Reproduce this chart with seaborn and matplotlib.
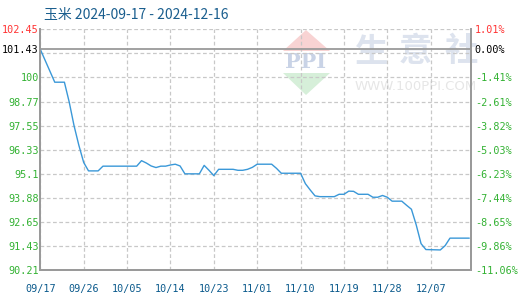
import matplotlib
matplotlib.use("Agg")
import matplotlib.pyplot as plt
from matplotlib.patches import Polygon
import seaborn as sns
import pandas as pd
import numpy as np

# ---- data ----
dates = ["2024-09-17", "2024-09-20", "2024-09-22", "2024-09-23", "2024-09-24", "2024-09-25",
         "2024-09-26", "2024-09-27", "2024-09-29", "2024-09-30", "2024-10-07", "2024-10-08",
         "2024-10-09", "2024-10-10", "2024-10-11", "2024-10-12", "2024-10-13", "2024-10-14",
         "2024-10-15", "2024-10-16", "2024-10-17", "2024-10-20", "2024-10-21", "2024-10-22",
         "2024-10-23", "2024-10-24", "2024-10-27", "2024-10-28", "2024-10-29", "2024-10-30",
         "2024-10-31", "2024-11-01", "2024-11-04", "2024-11-05", "2024-11-06", "2024-11-10",
         "2024-11-11", "2024-11-12", "2024-11-13", "2024-11-14", "2024-11-17", "2024-11-18",
         "2024-11-19", "2024-11-20", "2024-11-21", "2024-11-22", "2024-11-24", "2024-11-25",
         "2024-11-26", "2024-11-27", "2024-11-28", "2024-11-29", "2024-12-01", "2024-12-02",
         "2024-12-03", "2024-12-04", "2024-12-05", "2024-12-06", "2024-12-09", "2024-12-10",
         "2024-12-11", "2024-12-15"]
prices = [101.43, 99.76, 99.76, 98.75, 97.55, 96.55,
          95.68, 95.25, 95.25, 95.49, 95.49, 95.77,
          95.65, 95.50, 95.42, 95.49, 95.49, 95.55,
          95.59, 95.50, 95.10, 95.10, 95.53, 95.28,
          95.01, 95.33, 95.33, 95.28, 95.28, 95.33,
          95.43, 95.59, 95.59, 95.38, 95.13, 95.13,
          94.60, 94.28, 93.98, 93.94, 93.94, 94.06,
          94.06, 94.22, 94.21, 94.06, 94.06, 93.91,
          93.91, 94.00, 93.91, 93.71, 93.71, 93.50,
          93.30, 92.50, 91.55, 91.25, 91.23, 91.45,
          91.83, 91.83]

x_tick_labels = ["09/17", "09/26", "10/05", "10/14", "10/23", "11/01", "11/10", "11/19", "11/28", "12/07"]
y_ticks = [102.45, 101.43, 100.0, 98.77, 97.55, 96.33, 95.1, 93.88, 92.65, 91.43, 90.21]
y_tick_labels = ["102.45", "101.43", "100", "98.77", "97.55", "96.33", "95.1", "93.88", "92.65", "91.43", "90.21"]
pct_labels = ["1.01%", "0.00%", "-1.41%", "-2.61%", "-3.82%", "-5.03%", "-6.23%", "-7.44%", "-8.65%", "-9.86%", "-11.06%"]
grid_levels = [102.45, 101.226, 100.0, 98.77, 97.55, 96.33, 95.1, 93.88, 92.65, 91.43, 90.21]
title_text = "玉米 2024-09-17 - 2024-12-16"

start = pd.Timestamp("2024-09-17")
df = pd.DataFrame({"date": pd.to_datetime(dates), "price": prices})
df["day"] = (df["date"] - start).dt.days.astype(float)
tick_days = [(pd.Timestamp("2024-" + t.replace("/", "-")) - start).days for t in x_tick_labels]

sns.set_style("white")
plt.rcParams["font.family"] = ["Noto Sans CJK SC", "DejaVu Sans"]

W, H = 520, 300
fig = plt.figure(figsize=(W / 100, H / 100), dpi=100)
L, R, T, B = 40.3, 470.7, 29.3, 270.0
ax = fig.add_axes([L / W, 1 - B / H, (R - L) / W, (B - T) / H])
ax.set_facecolor("none")

# ---- watermark (figure pixel coords) ----
def fx(px):
    return px / W

def fy(py):
    return 1 - py / H

red_tri = Polygon([(fx(283), fy(51)), (fx(306), fy(30)), (fx(330), fy(51))],
                  closed=True, transform=fig.transFigure, facecolor="#f8d3d3", edgecolor="none", zorder=-5)
green_tri = Polygon([(fx(283), fy(73)), (fx(306), fy(95)), (fx(330), fy(73))],
                    closed=True, transform=fig.transFigure, facecolor="#d6efd9", edgecolor="none", zorder=-5)
fig.patches.extend([red_tri, green_tri])
fig.text(fx(306), fy(62), "PPI", ha="center", va="center", fontsize=15, fontweight="bold",
         family="DejaVu Serif", color="#c9d3e6", zorder=-4)
for ch, cx in zip("生意社", [372, 415, 461]):
    fig.text(fx(cx), fy(52), ch, ha="center", va="center", fontsize=24, fontweight="bold",
             family="Noto Sans CJK SC", color="#dde3ee", zorder=-4)
fig.text(fx(416), fy(86), "WWW.100PPI.COM", ha="center", va="center", fontsize=9.5,
         family="DejaVu Sans", color="#e6e6e6", zorder=-4)

# ---- grid ----
for g in grid_levels:
    ax.axhline(g, color="#c8c8c8", lw=0.9, ls=(0, (3, 2)), zorder=1)
for d in tick_days:
    ax.axvline(d, color="#c8c8c8", lw=0.9, ls=(0, (3, 2)), zorder=1)
ax.axhline(101.43, color="#9a9a9a", lw=1.3, zorder=2)

# ---- line ----
sns.lineplot(data=df, x="day", y="price", ax=ax, color="#3a98d8", lw=1.0, zorder=3)

ax.set_xlim(0, 89.3)
ax.set_ylim(90.21, 102.45)
ax.set_xlabel("")
ax.set_ylabel("")
ax.grid(False)

mono = "DejaVu Sans Mono"
ax.set_xticks(tick_days)
ax.set_xticklabels(x_tick_labels, family=mono, fontsize=7.3, color="#0b5a8c")
ax.tick_params(axis="x", length=0, pad=10)
ax.set_yticks(y_ticks)
ax.set_yticklabels(y_tick_labels, family=mono, fontsize=7.3)
ax.tick_params(axis="y", length=0, pad=1)
ycolors = ["#ff3333", "#000000"] + ["#33b233"] * 9
for lab, c in zip(ax.get_yticklabels(), ycolors):
    lab.set_color(c)

ax2 = ax.twinx()
ax2.set_ylim(90.21, 102.45)
ax2.set_yticks(y_ticks)
ax2.set_yticklabels(pct_labels, family=mono, fontsize=7.3)
ax2.tick_params(axis="y", length=0, pad=3)
for lab, c in zip(ax2.get_yticklabels(), ycolors):
    lab.set_color(c)

for a in (ax, ax2):
    a.spines["top"].set_visible(False)
    for s in ("left", "bottom", "right"):
        a.spines[s].set_color("#9a9a9a")
        a.spines[s].set_linewidth(1.3)

fig.text(fx(136), fy(15), title_text, ha="center", va="center", fontsize=10,
         family=["Noto Sans CJK SC", "DejaVu Sans"], color="#1a5e8e")

fig.savefig("out.png", dpi=100)
